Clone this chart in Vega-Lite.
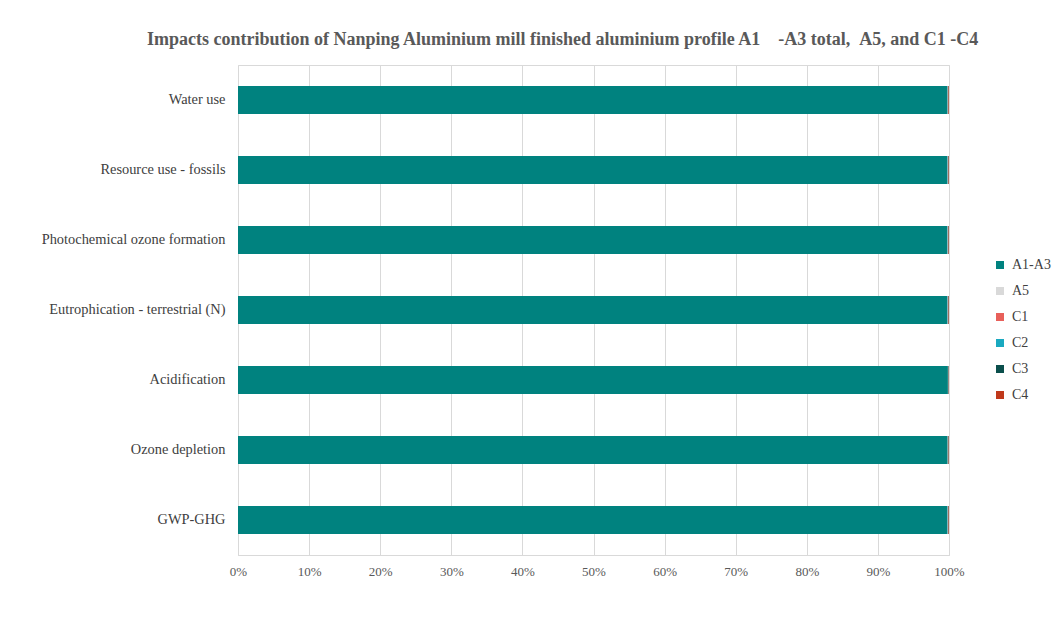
{
  "$schema": "https://vega.github.io/schema/vega-lite/v6.json",
  "autosize": {"type": "none"},
  "padding": {"left": 238, "top": 65, "right": 105, "bottom": 63},
  "width": 711,
  "height": 490,
  "background": "white",
  "config": {
    "font": "Liberation Serif",
    "view": {"stroke": "#d9d9d9", "strokeWidth": 1}
  },
  "title": {
    "text": "Impacts contribution of Nanping Aluminium mill finished aluminium profile A1\u00a0\u00a0\u00a0\u00a0-A3 total,\u00a0\u00a0A5, and C1 -C4",
    "anchor": "start",
    "frame": "group",
    "dx": -91,
    "offset": 16,
    "fontSize": 18,
    "fontWeight": "bold",
    "color": "#595959",
    "font": "Liberation Serif"
  },
  "data": {
    "values": [
      {"impact": "Water use", "stage": "A1-A3", "ord": 1, "share": 99.75},
      {"impact": "Water use", "stage": "A5", "ord": 2, "share": 0.03},
      {"impact": "Water use", "stage": "C1", "ord": 3, "share": 0.02},
      {"impact": "Water use", "stage": "C2", "ord": 4, "share": 0.04},
      {"impact": "Water use", "stage": "C3", "ord": 5, "share": 0.08},
      {"impact": "Water use", "stage": "C4", "ord": 6, "share": 0.08},
      {"impact": "Resource use - fossils", "stage": "A1-A3", "ord": 1, "share": 99.75},
      {"impact": "Resource use - fossils", "stage": "A5", "ord": 2, "share": 0.03},
      {"impact": "Resource use - fossils", "stage": "C1", "ord": 3, "share": 0.02},
      {"impact": "Resource use - fossils", "stage": "C2", "ord": 4, "share": 0.05},
      {"impact": "Resource use - fossils", "stage": "C3", "ord": 5, "share": 0.08},
      {"impact": "Resource use - fossils", "stage": "C4", "ord": 6, "share": 0.07},
      {"impact": "Photochemical ozone formation", "stage": "A1-A3", "ord": 1, "share": 99.75},
      {"impact": "Photochemical ozone formation", "stage": "A5", "ord": 2, "share": 0.03},
      {"impact": "Photochemical ozone formation", "stage": "C1", "ord": 3, "share": 0.03},
      {"impact": "Photochemical ozone formation", "stage": "C2", "ord": 4, "share": 0.05},
      {"impact": "Photochemical ozone formation", "stage": "C3", "ord": 5, "share": 0.07},
      {"impact": "Photochemical ozone formation", "stage": "C4", "ord": 6, "share": 0.07},
      {"impact": "Eutrophication - terrestrial (N)", "stage": "A1-A3", "ord": 1, "share": 99.74},
      {"impact": "Eutrophication - terrestrial (N)", "stage": "A5", "ord": 2, "share": 0.03},
      {"impact": "Eutrophication - terrestrial (N)", "stage": "C1", "ord": 3, "share": 0.03},
      {"impact": "Eutrophication - terrestrial (N)", "stage": "C2", "ord": 4, "share": 0.05},
      {"impact": "Eutrophication - terrestrial (N)", "stage": "C3", "ord": 5, "share": 0.08},
      {"impact": "Eutrophication - terrestrial (N)", "stage": "C4", "ord": 6, "share": 0.07},
      {"impact": "Acidification", "stage": "A1-A3", "ord": 1, "share": 99.85},
      {"impact": "Acidification", "stage": "A5", "ord": 2, "share": 0.02},
      {"impact": "Acidification", "stage": "C1", "ord": 3, "share": 0.01},
      {"impact": "Acidification", "stage": "C2", "ord": 4, "share": 0.03},
      {"impact": "Acidification", "stage": "C3", "ord": 5, "share": 0.05},
      {"impact": "Acidification", "stage": "C4", "ord": 6, "share": 0.04},
      {"impact": "Ozone depletion", "stage": "A1-A3", "ord": 1, "share": 99.8},
      {"impact": "Ozone depletion", "stage": "A5", "ord": 2, "share": 0.02},
      {"impact": "Ozone depletion", "stage": "C1", "ord": 3, "share": 0.02},
      {"impact": "Ozone depletion", "stage": "C2", "ord": 4, "share": 0.04},
      {"impact": "Ozone depletion", "stage": "C3", "ord": 5, "share": 0.06},
      {"impact": "Ozone depletion", "stage": "C4", "ord": 6, "share": 0.06},
      {"impact": "GWP-GHG", "stage": "A1-A3", "ord": 1, "share": 99.75},
      {"impact": "GWP-GHG", "stage": "A5", "ord": 2, "share": 0.03},
      {"impact": "GWP-GHG", "stage": "C1", "ord": 3, "share": 0.02},
      {"impact": "GWP-GHG", "stage": "C2", "ord": 4, "share": 0.05},
      {"impact": "GWP-GHG", "stage": "C3", "ord": 5, "share": 0.08},
      {"impact": "GWP-GHG", "stage": "C4", "ord": 6, "share": 0.07}
    ]
  },
  "mark": {"type": "bar"},
  "encoding": {
    "y": {
      "field": "impact",
      "type": "nominal",
      "sort": ["Water use", "Resource use - fossils", "Photochemical ozone formation", "Eutrophication - terrestrial (N)", "Acidification", "Ozone depletion", "GWP-GHG"],
      "scale": {"paddingInner": 0.6, "paddingOuter": 0.3},
      "axis": {
        "title": null,
        "ticks": false,
        "domain": false,
        "labelPadding": 13,
        "labelLimit": 400,
        "labelFontSize": 14.4,
        "labelColor": "#404040",
        "labelFont": "Liberation Serif"
      }
    },
    "x": {
      "field": "share",
      "type": "quantitative",
      "stack": "normalize",
      "scale": {"domain": [0, 1]},
      "axis": {
        "title": null,
        "format": "%",
        "values": [0, 0.1, 0.2, 0.3, 0.4, 0.5, 0.6, 0.7, 0.8, 0.9, 1],
        "ticks": false,
        "domain": true,
        "domainColor": "#d9d9d9",
        "gridColor": "#d9d9d9",
        "labelFlush": false,
        "labelPadding": 10,
        "labelFontSize": 13,
        "labelColor": "#595959",
        "labelFont": "Liberation Serif"
      }
    },
    "color": {
      "field": "stage",
      "type": "nominal",
      "scale": {
        "domain": ["A1-A3", "A5", "C1", "C2", "C3", "C4"],
        "range": ["#00827f", "#d9d9d9", "#e8605a", "#1aa9c0", "#0b4f4c", "#c0391b"]
      },
      "legend": {
        "title": null,
        "orient": "none",
        "legendX": 755,
        "legendY": 193,
        "symbolType": "square",
        "symbolSize": 64,
        "symbolStrokeWidth": 0,
        "labelFontSize": 14,
        "labelColor": "#404040",
        "labelFont": "Liberation Serif",
        "rowPadding": 12,
        "labelOffset": 5
      }
    },
    "order": {"field": "ord", "type": "quantitative"}
  }
}
